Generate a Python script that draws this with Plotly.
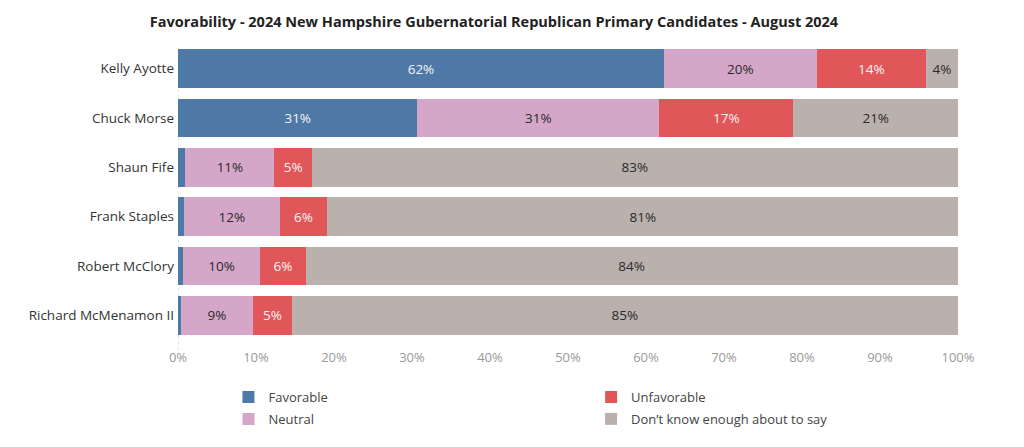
import plotly.graph_objects as go

candidates = ["Kelly Ayotte", "Chuck Morse", "Shaun Fife", "Frank Staples",
              "Robert McClory", "Richard McMenamon II"]
favorable = [62.3, 30.7, 0.96, 0.74, 0.61, 0.32]
neutral = [19.6, 31.0, 11.4, 12.3, 9.95, 9.35]
unfavorable = [14.0, 17.2, 4.8, 6.1, 5.8, 4.9]
dont_know = [4.1, 21.1, 82.8, 80.9, 83.6, 85.43]

series = [
    ("Favorable", favorable, "#4E79A7", "#f4f4f4", "legend"),
    ("Neutral", neutral, "#D4A6C8", "#2b2b2b", "legend"),
    ("Unfavorable", unfavorable, "#E15759", "#f4f4f4", "legend2"),
    ("Don\u2019t know enough about to say", dont_know, "#BAB0AC", "#2b2b2b", "legend2"),
]

fig = go.Figure()
for name, vals, color, tcolor, leg in series:
    labels = [f"{round(v)}%" if v >= 3 else "" for v in vals]
    fig.add_trace(go.Bar(
        y=candidates, x=vals, name=name, orientation="h",
        marker=dict(color=color, line=dict(width=0)),
        text=labels, textposition="inside", insidetextanchor="middle",
        textangle=0, constraintext="none",
        textfont=dict(color=tcolor, size=13.5, family="Open Sans"),
        legend=leg, legendgroup=name, hoverinfo="x+name",
    ))

legend_common = dict(orientation="v", font=dict(size=13, color="#444444"),
                     itemsizing="constant", traceorder="grouped",
                     tracegroupgap=2, bgcolor="rgba(0,0,0,0)",
                     yanchor="top", y=-0.142, xref="paper")

fig.add_shape(type="line", xref="x", yref="paper", x0=0, x1=0, y0=-0.035, y1=1.0,
              line=dict(color="#c8c8c8", width=1, dash="dot"), layer="below")

fig.update_layout(
    barmode="stack", bargap=0.22,
    width=1024, height=447,
    margin=dict(l=169.5, r=73.7, t=36.4, b=115.4),
    plot_bgcolor="white", paper_bgcolor="white",
    font=dict(family="Open Sans", color="#333333"),
    title=dict(text="<b>Favorability - 2024 New Hampshire Gubernatorial Republican Primary Candidates - August 2024</b>",
               x=0.4746, xanchor="center", y=0.9687, yanchor="middle",
               font=dict(size=14.5, color="#222222", family="Open Sans")),
    xaxis=dict(range=[0, 100], tickvals=list(range(0, 101, 10)),
               ticktext=[f"{v}%" for v in range(0, 101, 10)],
               showgrid=False, zeroline=False, showline=False,
               tickfont=dict(size=13, color="#999999"), ticks="", ticklabelstandoff=8),
    yaxis=dict(autorange="reversed", showgrid=False, showline=False,
               ticks="", tickfont=dict(size=13.5, color="#333333"), ticklabelstandoff=3),
    legend=dict(x=0.0647, **legend_common),
    legend2=dict(x=0.5296, **legend_common),
)

fig.write_html("out.html")
